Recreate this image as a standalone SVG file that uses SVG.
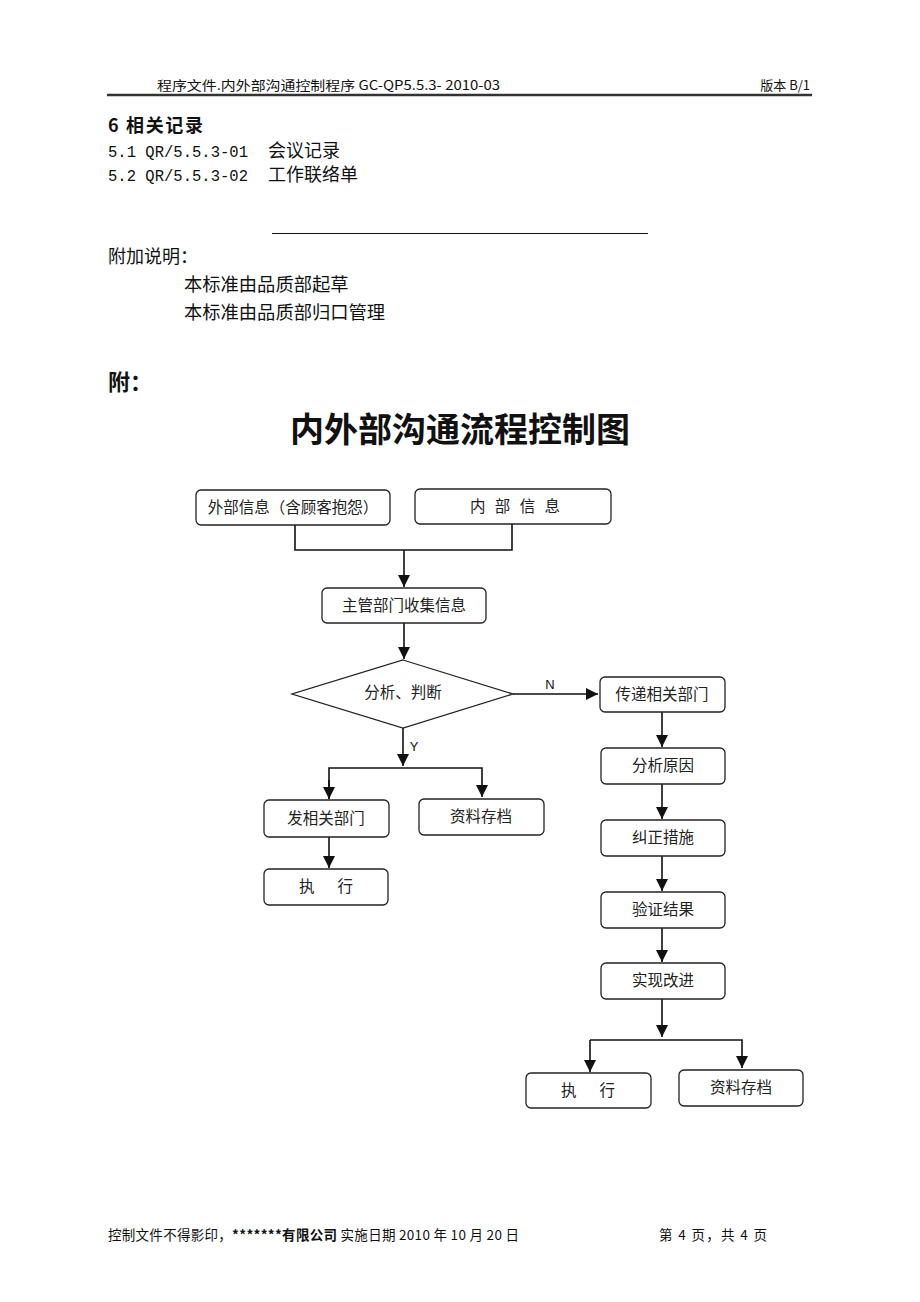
<svg xmlns="http://www.w3.org/2000/svg" width="920" height="1302" viewBox="0 0 920 1302">
<style>
.cjk{font-family:"Noto Sans CJK SC","Noto Sans",sans-serif;fill:#111}
.mono{font-family:"Liberation Mono","Noto Sans CJK SC",monospace;fill:#111}
.node rect{fill:#fff;stroke:#222;stroke-width:1.3}
.node polygon{fill:#fff;stroke:#222;stroke-width:1.3}
.node text{font-family:"Noto Sans CJK SC","Noto Sans",sans-serif;font-size:15.5px;fill:#222;text-anchor:middle}
.conn{fill:none;stroke:#111;stroke-width:1.6}
.lbl{font-family:"Liberation Sans",Arial,sans-serif;font-size:13px;fill:#111;text-anchor:middle}
</style>
<defs>
<marker id="ah" markerUnits="userSpaceOnUse" markerWidth="12" markerHeight="14" viewBox="0 0 12 14" refX="12" refY="6" orient="auto">
<path d="M0,0 L12,6 L0,12 Z" fill="#111"/>
</marker>
</defs>
<rect width="920" height="1302" fill="#fff"/>

<!-- header -->
<g id="header">
<text class="cjk" x="157" y="90" font-size="13" textLength="343" lengthAdjust="spacingAndGlyphs">程序文件.内外部沟通控制程序 GC-QP5.5.3- 2010-03</text>
<text class="cjk" x="810" y="90" font-size="13" text-anchor="end">版本 B/1</text>
<line x1="107" y1="95" x2="812" y2="95" stroke="#333" stroke-width="2.5"/>
</g>

<!-- body text -->
<g id="records">
<text class="cjk" x="108" y="132" font-size="18" font-weight="bold" textLength="95" lengthAdjust="spacing">6 相关记录</text>
<text class="mono" x="108" y="157" font-size="16" textLength="140" lengthAdjust="spacingAndGlyphs">5.1 QR/5.5.3-01</text>
<text class="cjk" x="268" y="157" font-size="18">会议记录</text>
<text class="mono" x="108" y="181" font-size="16" textLength="140" lengthAdjust="spacingAndGlyphs">5.2 QR/5.5.3-02</text>
<text class="cjk" x="268" y="181" font-size="18">工作联络单</text>
<line x1="272" y1="233.5" x2="648" y2="233.5" stroke="#111" stroke-width="1.2"/>
<text class="cjk" x="108" y="263" font-size="18">附加说明：</text>
<text class="cjk" x="184" y="291" font-size="18.3">本标准由品质部起草</text>
<text class="cjk" x="184" y="319" font-size="18.3">本标准由品质部归口管理</text>
<text class="cjk" x="108" y="390" font-size="22" font-weight="bold">附：</text>
<text class="cjk" x="460" y="442" font-size="34" font-weight="bold" text-anchor="middle">内外部沟通流程控制图</text>
</g>

<!-- connectors -->
<g id="connectors">
<polyline class="conn" points="295,525 295,550 512,550 512,524"/>
<line class="conn" x1="404" y1="550" x2="404" y2="587" marker-end="url(#ah)"/>
<line class="conn" x1="404" y1="623" x2="404" y2="659" marker-end="url(#ah)"/>
<line class="conn" x1="513" y1="694" x2="598" y2="694" marker-end="url(#ah)"/>
<text class="lbl" x="550" y="689">N</text>
<line class="conn" x1="403" y1="728" x2="403" y2="766" marker-end="url(#ah)"/>
<text class="lbl" x="414" y="751">Y</text>
<polyline class="conn" points="329,799 329,768 482,768 482,797" marker-end="url(#ah)"/>
<line class="conn" x1="329" y1="780" x2="329" y2="799" marker-end="url(#ah)"/>
<line class="conn" x1="329" y1="837" x2="329" y2="868" marker-end="url(#ah)"/>
<line class="conn" x1="662" y1="712" x2="662" y2="747" marker-end="url(#ah)"/>
<line class="conn" x1="662" y1="784" x2="662" y2="819" marker-end="url(#ah)"/>
<line class="conn" x1="662" y1="856" x2="662" y2="891" marker-end="url(#ah)"/>
<line class="conn" x1="662" y1="928" x2="662" y2="962" marker-end="url(#ah)"/>
<line class="conn" x1="662" y1="999" x2="662" y2="1037" marker-end="url(#ah)"/>
<polyline class="conn" points="590,1040 742,1040 742,1068" marker-end="url(#ah)"/>
<line class="conn" x1="590" y1="1040" x2="590" y2="1072" marker-end="url(#ah)"/>
</g>

<!-- nodes -->
<g id="n-external" class="node"><rect x="196" y="490" width="194" height="35" rx="5"/><text x="293" y="513">外部信息（含顾客抱怨）</text></g>
<g id="n-internal" class="node"><rect x="415" y="489" width="196" height="35" rx="5"/><text x="515" y="512" textLength="90" lengthAdjust="spacing">内 部 信 息</text></g>
<g id="n-collect" class="node"><rect x="322" y="588" width="164" height="35" rx="5"/><text x="404" y="611">主管部门收集信息</text></g>
<g id="n-decide" class="node"><polygon points="403,660 513,694 403,728 292,694"/><text x="403" y="698">分析、判断</text></g>
<g id="n-pass" class="node"><rect x="600" y="677" width="125" height="35" rx="5"/><text x="662" y="700">传递相关部门</text></g>
<g id="n-send" class="node"><rect x="264" y="800" width="125" height="37" rx="5"/><text x="326" y="824">发相关部门</text></g>
<g id="n-archive1" class="node"><rect x="419" y="799" width="125" height="36" rx="5"/><text x="481" y="822">资料存档</text></g>
<g id="n-exec1" class="node"><rect x="264" y="869" width="124" height="36" rx="5"/><text x="326" y="892" textLength="54" lengthAdjust="spacing">执 行</text></g>
<g id="n-cause" class="node"><rect x="601" y="748" width="124" height="36" rx="5"/><text x="663" y="771">分析原因</text></g>
<g id="n-correct" class="node"><rect x="601" y="820" width="124" height="36" rx="5"/><text x="663" y="843">纠正措施</text></g>
<g id="n-verify" class="node"><rect x="601" y="892" width="124" height="36" rx="5"/><text x="663" y="915">验证结果</text></g>
<g id="n-improve" class="node"><rect x="601" y="963" width="124" height="36" rx="5"/><text x="663" y="986">实现改进</text></g>
<g id="n-exec2" class="node"><rect x="526" y="1073" width="125" height="35" rx="5"/><text x="588" y="1096" textLength="54" lengthAdjust="spacing">执 行</text></g>
<g id="n-archive2" class="node"><rect x="679" y="1070" width="124" height="36" rx="5"/><text x="741" y="1093">资料存档</text></g>

<!-- footer -->
<g id="footer">
<text class="cjk" x="108" y="1240" font-size="13.5" textLength="411" lengthAdjust="spacing"><tspan>控制文件不得影印，</tspan><tspan font-weight="bold">*******有限公司</tspan><tspan> 实施日期 2010 年 10 月 20 日</tspan></text>
<text class="cjk" x="659" y="1240" font-size="13.5" textLength="108" lengthAdjust="spacing">第 4 页，共 4 页</text>
</g>
</svg>
